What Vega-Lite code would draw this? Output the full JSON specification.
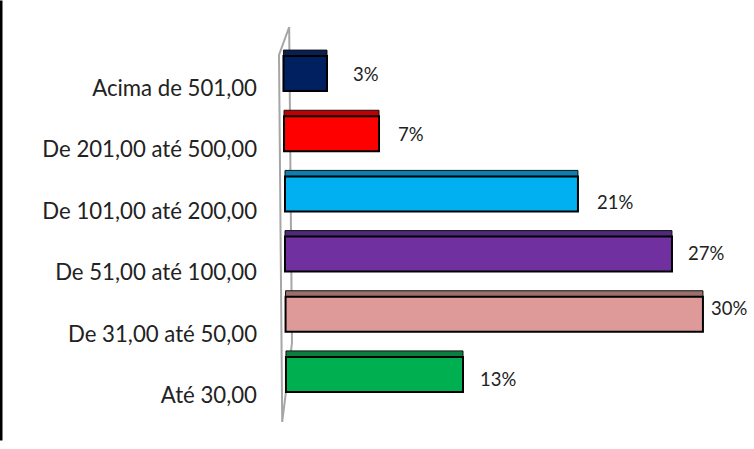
{
"$schema":"https://vega.github.io/schema/vega-lite/v6.json",
"width":754,"height":449,"autosize":"none","padding":0,"background":"white",
"config":{"view":{"stroke":null},"font":"Lato"},
"datasets":{
"faixas":[
{"faixa":"Acima de 501,00","inicio":-0.11,"valor":3.01,"rotulo":"3%"},
{"faixa":"De 201,00 até 500,00","inicio":-0.07,"valor":6.74,"rotulo":"7%"},
{"faixa":"De 101,00 até 200,00","inicio":0,"valor":21.0,"rotulo":"21%"},
{"faixa":"De 51,00 até 100,00","inicio":0,"valor":27.74,"rotulo":"27%"},
{"faixa":"De 31,00 até 50,00","inicio":0.04,"valor":29.96,"rotulo":"30%"},
{"faixa":"Até 30,00","inicio":0.07,"valor":12.76,"rotulo":"13%"}
],
"parede":[
{"ordem":1,"p":0.3,"a":27},
{"ordem":2,"p":0.5,"a":343},
{"ordem":3,"p":-0.2,"a":422},
{"ordem":4,"p":-0.43,"a":55},
{"ordem":5,"p":0.3,"a":27}
]
},
"resolve":{"scale":{"y":"independent"},"axis":{"y":"independent"}},
"layer":[
{"data":{"name":"parede"},
 "mark":{"type":"line","color":"#a6a6a6","strokeWidth":2,"clip":false},
 "encoding":{
  "x":{"field":"p","type":"quantitative","axis":null,"scale":{"domain":[0,30],"range":[285,703.5],"clamp":false,"nice":false,"zero":false}},
  "y":{"field":"a","type":"quantitative","scale":{"domain":[0,440],"range":[0,440],"nice":false,"zero":false},"axis":{"title":null,"labels":false,"ticks":false,"grid":false,"domain":true,"domainColor":"#000000","domainWidth":4}},
  "order":{"field":"ordem","type":"quantitative"}
 }},
{"data":{"name":"faixas"},
 "mark":{"type":"text","opacity":0},
 "encoding":{
  "y":{"field":"faixa","type":"nominal","sort":null,"scale":{"range":[57.5,426.5],"paddingInner":0,"paddingOuter":0},"axis":{"title":null,"orient":"left","offset":-256.5,"domain":false,"ticks":false,"labelPadding":0,"labelFont":"Lato","labelFontSize":22.2,"labelColor":"#222222","labelLimit":300}},
  "text":{"field":"rotulo","type":"nominal"}
 }},
{"data":{"name":"faixas"},
 "mark":{"type":"bar","size":6,"yOffset":-20.5,"stroke":"#111111","strokeWidth":1},
 "encoding":{
  "x":{"field":"inicio","type":"quantitative","axis":null,"scale":{"domain":[0,30],"range":[285,703.5],"nice":false,"zero":false}},
  "x2":{"field":"valor"},
  "y":{"field":"faixa","type":"nominal","sort":null,"axis":null,"scale":{"range":[43.5,404.5],"paddingInner":0,"paddingOuter":0}},
  "color":{"field":"faixa","type":"nominal","legend":null,"sort":null,"scale":{"domain":["Acima de 501,00","De 201,00 até 500,00","De 101,00 até 200,00","De 51,00 até 100,00","De 31,00 até 50,00","Até 30,00"],"range":["#0a2050","#c00000","#0a7fb0","#4f2a7a","#9a6f6c","#0a8040"]}}
 }},
{"data":{"name":"faixas"},
 "mark":{"type":"bar","size":35,"stroke":"#000000","strokeWidth":2},
 "encoding":{
  "x":{"field":"inicio","type":"quantitative","axis":null,"scale":{"domain":[0,30],"range":[285,703.5],"nice":false,"zero":false}},
  "x2":{"field":"valor"},
  "y":{"field":"faixa","type":"nominal","sort":null,"axis":null,"scale":{"range":[43.5,404.5],"paddingInner":0,"paddingOuter":0}},
  "fill":{"field":"faixa","type":"nominal","legend":null,"sort":null,"scale":{"domain":["Acima de 501,00","De 201,00 até 500,00","De 101,00 até 200,00","De 51,00 até 100,00","De 31,00 até 50,00","Até 30,00"],"range":["#002060","#ff0000","#00b0f0","#7030a0","#dd9a98","#00b050"]}}
 }},
{"data":{"name":"faixas"},"transform":[{"filter":"datum.rotulo=='3%'"}],
 "mark":{"type":"text","align":"left","dx":26,"dy":1.5,"fontSize":18.5,"color":"#222222","font":"Lato"},
 "encoding":{"x":{"field":"valor","type":"quantitative","axis":null,"scale":{"domain":[0,30],"range":[285,703.5],"nice":false,"zero":false}},
 "y":{"field":"faixa","type":"nominal","axis":null,"sort":null,"scale":{"domain":["Acima de 501,00","De 201,00 até 500,00","De 101,00 até 200,00","De 51,00 até 100,00","De 31,00 até 50,00","Até 30,00"],"range":[43.5,404.5],"paddingInner":0,"paddingOuter":0}},"text":{"field":"rotulo","type":"nominal"}}},
{"data":{"name":"faixas"},"transform":[{"filter":"datum.rotulo=='7%'"}],
 "mark":{"type":"text","align":"left","dx":19,"dy":1.5,"fontSize":18.5,"color":"#222222","font":"Lato"},
 "encoding":{"x":{"field":"valor","type":"quantitative","axis":null,"scale":{"domain":[0,30],"range":[285,703.5],"nice":false,"zero":false}},
 "y":{"field":"faixa","type":"nominal","axis":null,"sort":null,"scale":{"domain":["Acima de 501,00","De 201,00 até 500,00","De 101,00 até 200,00","De 51,00 até 100,00","De 31,00 até 50,00","Até 30,00"],"range":[43.5,404.5],"paddingInner":0,"paddingOuter":0}},"text":{"field":"rotulo","type":"nominal"}}},
{"data":{"name":"faixas"},"transform":[{"filter":"datum.rotulo=='21%'"}],
 "mark":{"type":"text","align":"left","dx":19,"dy":9.5,"fontSize":18.5,"color":"#222222","font":"Lato"},
 "encoding":{"x":{"field":"valor","type":"quantitative","axis":null,"scale":{"domain":[0,30],"range":[285,703.5],"nice":false,"zero":false}},
 "y":{"field":"faixa","type":"nominal","axis":null,"sort":null,"scale":{"domain":["Acima de 501,00","De 201,00 até 500,00","De 101,00 até 200,00","De 51,00 até 100,00","De 31,00 até 50,00","Até 30,00"],"range":[43.5,404.5],"paddingInner":0,"paddingOuter":0}},"text":{"field":"rotulo","type":"nominal"}}},
{"data":{"name":"faixas"},"transform":[{"filter":"datum.rotulo=='27%'"}],
 "mark":{"type":"text","align":"left","dx":16,"dy":-0.5,"fontSize":18.5,"color":"#222222","font":"Lato"},
 "encoding":{"x":{"field":"valor","type":"quantitative","axis":null,"scale":{"domain":[0,30],"range":[285,703.5],"nice":false,"zero":false}},
 "y":{"field":"faixa","type":"nominal","axis":null,"sort":null,"scale":{"domain":["Acima de 501,00","De 201,00 até 500,00","De 101,00 até 200,00","De 51,00 até 100,00","De 31,00 até 50,00","Até 30,00"],"range":[43.5,404.5],"paddingInner":0,"paddingOuter":0}},"text":{"field":"rotulo","type":"nominal"}}},
{"data":{"name":"faixas"},"transform":[{"filter":"datum.rotulo=='30%'"}],
 "mark":{"type":"text","align":"left","dx":8,"dy":-5,"fontSize":18.5,"color":"#222222","font":"Lato"},
 "encoding":{"x":{"field":"valor","type":"quantitative","axis":null,"scale":{"domain":[0,30],"range":[285,703.5],"nice":false,"zero":false}},
 "y":{"field":"faixa","type":"nominal","axis":null,"sort":null,"scale":{"domain":["Acima de 501,00","De 201,00 até 500,00","De 101,00 até 200,00","De 51,00 até 100,00","De 31,00 até 50,00","Até 30,00"],"range":[43.5,404.5],"paddingInner":0,"paddingOuter":0}},"text":{"field":"rotulo","type":"nominal"}}},
{"data":{"name":"faixas"},"transform":[{"filter":"datum.rotulo=='13%'"}],
 "mark":{"type":"text","align":"left","dx":17,"dy":6,"fontSize":18.5,"color":"#222222","font":"Lato"},
 "encoding":{"x":{"field":"valor","type":"quantitative","axis":null,"scale":{"domain":[0,30],"range":[285,703.5],"nice":false,"zero":false}},
 "y":{"field":"faixa","type":"nominal","axis":null,"sort":null,"scale":{"domain":["Acima de 501,00","De 201,00 até 500,00","De 101,00 até 200,00","De 51,00 até 100,00","De 31,00 até 50,00","Até 30,00"],"range":[43.5,404.5],"paddingInner":0,"paddingOuter":0}},"text":{"field":"rotulo","type":"nominal"}}}
]
}
